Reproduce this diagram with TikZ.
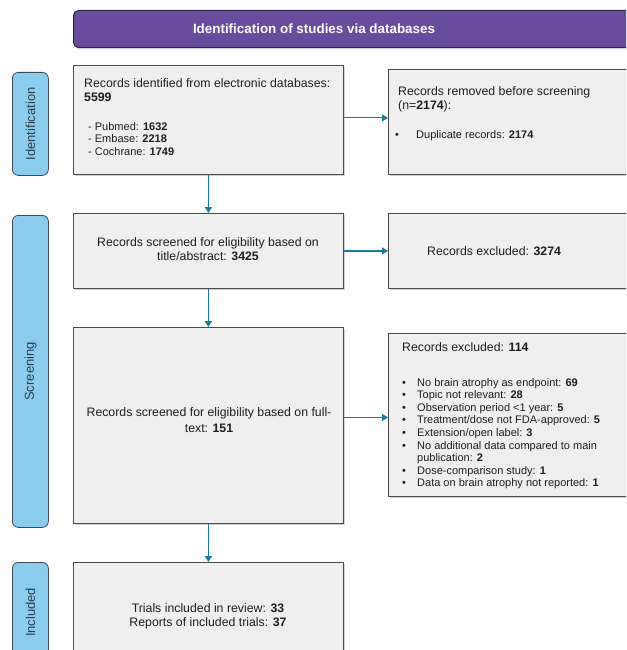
\documentclass[tikz,border=0pt]{standalone}
\usepackage{fontspec}
\setmainfont{Liberation Sans}
\usetikzlibrary{arrows.meta,shadows}
\definecolor{boxfill}{HTML}{EFEFEF}
\definecolor{boxline}{HTML}{4A4A4A}
\definecolor{arrowc}{HTML}{1B7B99}
\definecolor{sidefill}{HTML}{8CCDEE}
\definecolor{sideline}{HTML}{3E4A58}
\definecolor{sidetext}{HTML}{2E3A4A}
\definecolor{headfill}{HTML}{6A4C9E}
\definecolor{headline}{HTML}{2A2340}
\definecolor{txt}{HTML}{1E1E1E}
\begin{document}
\begin{tikzpicture}[x=1pt,y=-1pt,
  box/.style={draw=boxline, fill=boxfill, line width=0.8pt, anchor=north west, inner sep=0pt,
    drop shadow={opacity=0.35, shadow xshift=1.5pt, shadow yshift=-1.5pt}},
  side/.style={draw=sideline, fill=sidefill, line width=0.8pt, rounded corners=6pt,
    anchor=north west, inner sep=0pt, minimum width=36pt},
  sidetxt/.style={rotate=90, text=sidetext, font=\fontsize{13}{15}\selectfont, inner sep=0pt},
  big/.style={font=\fontsize{12.3}{14}\selectfont, text=txt, inner sep=0pt},
  small/.style={font=\fontsize{11}{12.6}\selectfont, text=txt, inner sep=0pt},
  arr/.style={draw=arrowc, line width=1.2pt, -{Triangle[width=7pt,length=6pt]}}
]
\useasboundingbox (0,0) rectangle (626,650);
\clip (0,0) rectangle (626,650);

% header
\node[draw=headline, fill=headfill, line width=1pt, rounded corners=5pt, anchor=north west,
  minimum width=580pt, minimum height=37pt, inner sep=0pt,
  drop shadow={opacity=0.35, shadow xshift=1.5pt, shadow yshift=-2pt}] (head) at (73,10) {};
\node[text=white, font=\bfseries\fontsize{13.4}{15}\selectfont, inner sep=0pt] (headt) at (314,28.5) {Identification of studies via databases};

% side labels
\node[side, minimum height=103pt] (sid1) at (12,72) {};
\node[sidetxt] (sid1t) at (sid1.center) {Identification};
\node[side, minimum height=312pt] (sid2) at (12,215) {};
\node[sidetxt] (sid2t) at (sid2.center) {Screening};
\node[side, minimum height=100pt] (sid3) at (12,562) {};
\node[sidetxt] (sid3t) at (sid3.center) {Included};

% boxes
\node[box, minimum width=270pt, minimum height=109pt] (b1) at (73,65) {};
\node[box, minimum width=250pt, minimum height=105pt] (b2) at (388,69) {};
\node[box, minimum width=270pt, minimum height=75pt] (b3) at (73,213) {};
\node[box, minimum width=250pt, minimum height=75pt] (b4) at (388,213) {};
\node[box, minimum width=270pt, minimum height=196pt] (b5) at (73,327) {};
\node[box, minimum width=250pt, minimum height=163pt] (b6) at (388,333) {};
\node[box, minimum width=270pt, minimum height=100pt] (b7) at (73,562) {};

% box 1 text
\node[big, anchor=base west] (b1a) at (84,88) {Records identified from electronic databases:};
\node[big, anchor=base west] (b1b) at (84,102) {\bfseries 5599};
\node[small, anchor=base west] (b1c) at (88,130) {- Pubmed: \textbf{1632}};
\node[small, anchor=base west] (b1d) at (88,142.6) {- Embase: \textbf{2218}};
\node[small, anchor=base west] (b1e) at (88,155.2) {- Cochrane: \textbf{1749}};

% box 2 text
\node[big, anchor=base west] (b2a) at (398,96) {Records removed before screening};
\node[big, anchor=base west] (b2b) at (398,109.5) {(n=\textbf{2174}):};
\node[small, anchor=base west] (b2c) at (395,139) {\textbullet};
\node[small, anchor=base west] (b2d) at (416,139) {Duplicate records: \textbf{2174}};

% box 3 text
\node[big, anchor=base] (b3a) at (208,246) {Records screened for eligibility based on};
\node[big, anchor=base] (b3b) at (208,260) {title/abstract: \textbf{3425}};

% box 4 text
\node[big, anchor=base west] (b4a) at (427,255.5) {Records excluded: \textbf{3274}};

% box 5 text
\node[big, anchor=base] (b5a) at (209,416.5) {Records screened for eligibility based on full-};
\node[big, anchor=base] (b5b) at (209,432) {text: \textbf{151}};

% box 6 text
\node[big, anchor=base west] (b6a) at (402,351) {Records excluded: \textbf{114}};
\foreach \i/\t in {0/{No brain atrophy as endpoint: \textbf{69}},
                   1/{Topic not relevant: \textbf{28}},
                   2/{Observation period <1 year: \textbf{5}},
                   3/{Treatment/dose not FDA-approved: \textbf{5}},
                   4/{Extension/open label: \textbf{3}},
                   5/{No additional data compared to main},
                   7/{Dose-comparison study: \textbf{1}},
                   8/{Data on brain atrophy not reported: \textbf{1}}}{
  \node[small, anchor=base west] (bul\i) at (402,386+12.6*\i) {\textbullet};
  \node[small, anchor=base west] (it\i) at (417,386+12.6*\i) {\t};
}
\node[small, anchor=base west] (it6) at (417,386+12.6*6) {publication: \textbf{2}};

% box 7 text
\node[big, anchor=base] (b7a) at (208,612) {Trials included in review: \textbf{33}};
\node[big, anchor=base] (b7b) at (208,626) {Reports of included trials: \textbf{37}};

% arrows
\draw[arr] ([yshift=2pt]b1.east) -- ([yshift=2pt]b1.east -| b2.west);
\draw[arr] (b1.south) -- (b3.north);
\draw[arr] (b3.east) -- (b3.east -| b4.west);
\draw[arr] (b3.south) -- (b5.north);
\draw[arr] ([yshift=8pt]b5.east) -- ([yshift=8pt]b5.east -| b6.west);
\draw[arr] (b5.south) -- (b7.north);
\end{tikzpicture}
\end{document}
